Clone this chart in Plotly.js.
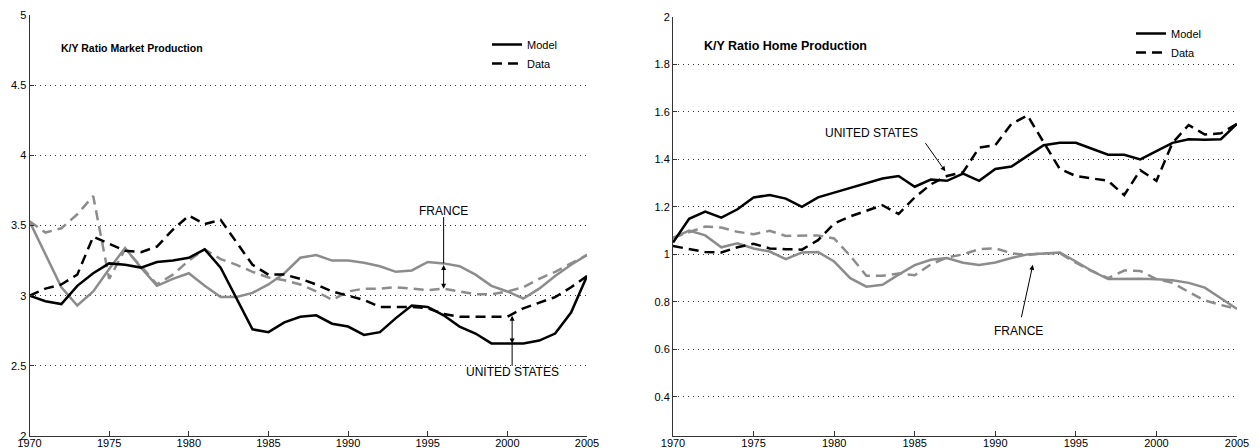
<!DOCTYPE html>
<html><head><meta charset="utf-8">
<script src="https://cdn.plot.ly/plotly-3.0.1.min.js"></script>
<style>html,body{margin:0;padding:0;background:#fff;}#chart{width:1260px;height:448px;}</style>
</head><body><div id="chart"></div>
<script>
// ---- data ----
const years = [1970,1971,1972,1973,1974,1975,1976,1977,1978,1979,1980,1981,1982,1983,1984,1985,1986,1987,1988,1989,1990,1991,1992,1993,1994,1995,1996,1997,1998,1999,2000,2001,2002,2003,2004,2005];

// K/Y ratio, market production
const usModelMkt = [3.00,2.96,2.94,3.07,3.16,3.23,3.22,3.20,3.24,3.25,3.27,3.33,3.20,2.98,2.76,2.74,2.81,2.85,2.86,2.80,2.78,2.72,2.74,2.84,2.93,2.92,2.86,2.78,2.73,2.66,2.66,2.66,2.68,2.73,2.88,3.14];
const usDataMkt  = [3.00,3.05,3.08,3.15,3.42,3.37,3.32,3.31,3.35,3.47,3.57,3.51,3.54,3.38,3.22,3.15,3.15,3.12,3.08,3.03,3.00,2.97,2.92,2.92,2.92,2.91,2.87,2.85,2.85,2.85,2.85,2.91,2.95,2.99,3.06,3.14];
const frModelMkt = [3.53,3.30,3.06,2.93,3.03,3.19,3.34,3.20,3.07,3.12,3.16,3.07,2.99,2.99,3.02,3.08,3.16,3.27,3.29,3.25,3.25,3.235,3.21,3.17,3.18,3.24,3.23,3.21,3.15,3.07,3.03,2.98,3.05,3.14,3.22,3.29];
const frDataMkt  = [3.53,3.45,3.48,3.58,3.71,3.12,3.33,3.21,3.08,3.15,3.25,3.33,3.26,3.22,3.17,3.13,3.11,3.08,3.03,2.97,3.03,3.05,3.05,3.06,3.05,3.04,3.05,3.03,3.01,3.01,3.03,3.06,3.12,3.17,3.23,3.29];

// K/Y ratio, home production
const usModelHome = [1.05,1.15,1.18,1.155,1.19,1.24,1.25,1.235,1.20,1.24,1.26,1.28,1.30,1.32,1.33,1.285,1.315,1.31,1.34,1.31,1.36,1.37,1.415,1.46,1.47,1.47,1.445,1.42,1.42,1.40,1.435,1.47,1.485,1.483,1.485,1.55];
const usDataHome  = [1.035,1.022,1.01,1.008,1.03,1.045,1.025,1.022,1.02,1.06,1.13,1.16,1.185,1.207,1.17,1.24,1.295,1.33,1.346,1.45,1.46,1.55,1.585,1.47,1.36,1.33,1.32,1.31,1.25,1.355,1.31,1.47,1.545,1.505,1.51,1.55];
const frModelHome = [1.07,1.10,1.08,1.03,1.047,1.025,1.012,0.98,1.008,1.01,0.97,0.90,0.864,0.872,0.915,0.955,0.977,0.985,0.965,0.955,0.966,0.985,1.0,1.005,1.008,0.97,0.93,0.896,0.898,0.897,0.895,0.891,0.88,0.86,0.815,0.77];
const frDataHome  = [1.07,1.095,1.117,1.113,1.095,1.085,1.099,1.078,1.08,1.08,1.067,0.994,0.91,0.91,0.92,0.912,0.958,0.987,1.0,1.022,1.026,1.005,0.998,1.005,1.005,0.965,0.93,0.90,0.932,0.93,0.896,0.88,0.842,0.806,0.787,0.77];

// tick labels
const xTicks = [1970,1975,1980,1985,1990,1995,2000,2005];
const yTicksMkt = [2,2.5,3,3.5,4,4.5,5];
const yTickTextMkt = ['2','2.5','3','3.5','4','4.5','5'];
const yTicksHome = [0.4,0.6,0.8,1,1.2,1.4,1.6,1.8,2];
const yTickTextHome = ['0.4','0.6','0.8','1','1.2','1.4','1.6','1.8','2'];

const titles = ['K/Y Ratio Market Production','K/Y Ratio Home Production'];
const seriesNames = ['Model','Data'];
const countryLabels = ['UNITED STATES','FRANCE'];

// ---- helpers ----
const W = 1260, H = 448;
const px = v => v / W;
const py = v => 1 - v / H;
function at(arr, yr) {
  const t = yr - years[0];
  const i = Math.floor(t), f = t - i;
  if (f === 0 || i >= arr.length - 1) return arr[i];
  return arr[i] * (1 - f) + arr[i + 1] * f;
}

const BLACK = '#000000', GRAY = '#8c8c8c';
const DASH = '10px,6px';
const sans = '"Liberation Sans", Arial, sans-serif';

function tr(y, xa, ya, color, dash, name, legend, show) {
  return {
    x: years, y: y, xaxis: xa, yaxis: ya, type: 'scatter', mode: 'lines',
    line: {color: color, width: 2.5, dash: dash},
    name: name, legend: legend, showlegend: show, hoverinfo: 'skip'
  };
}

const data = [
  tr(frDataMkt, 'x', 'y', GRAY, DASH, 'France data', 'legend', false),
  tr(frModelMkt, 'x', 'y', GRAY, 'solid', 'France model', 'legend', false),
  tr(usDataMkt, 'x', 'y', BLACK, DASH, seriesNames[1], 'legend', true),
  tr(usModelMkt, 'x', 'y', BLACK, 'solid', seriesNames[0], 'legend', true),
  tr(frDataHome, 'x2', 'y2', GRAY, DASH, 'France data', 'legend2', false),
  tr(frModelHome, 'x2', 'y2', GRAY, 'solid', 'France model', 'legend2', false),
  tr(usDataHome, 'x2', 'y2', BLACK, DASH, seriesNames[1], 'legend2', true),
  tr(usModelHome, 'x2', 'y2', BLACK, 'solid', seriesNames[0], 'legend2', true)
];
data[2].legendrank = 2; data[3].legendrank = 1;
data[6].legendrank = 2; data[7].legendrank = 1;

function xax(domain, anchor) {
  return {
    domain: domain, anchor: anchor, range: [1970, 2005], tickvals: xTicks, ticktext: xTicks.map(String),
    ticks: 'inside', ticklen: 5, tickcolor: '#333', showline: true, linecolor: '#333', linewidth: 1,
    showgrid: false, zeroline: false, fixedrange: true, ticklabelstandoff: -3,
    tickfont: {family: sans, size: 11, color: '#000'}
  };
}
function yax(domain, anchor, range, vals, text) {
  return {
    domain: domain, anchor: anchor, range: range, tickvals: vals, ticktext: text,
    ticks: 'inside', ticklen: 4, tickcolor: '#333', showline: true, linecolor: '#333', linewidth: 1,
    showgrid: true, gridcolor: '#333', gridwidth: 1, griddash: '1px,4px', zeroline: false, fixedrange: true,
    tickfont: {family: sans, size: 11, color: '#000'}
  };
}

const yrF = 1996, yrU = 2000.3;
const lblFont = {family: sans, size: 12, color: '#000'};
const arrowBase = {text: '', showarrow: true, arrowhead: 2, arrowsize: 1, arrowwidth: 1, arrowcolor: '#000', standoff: 0};
const annotations = [
  {xref: 'paper', yref: 'paper', x: px(132), y: py(48), xanchor: 'center', yanchor: 'middle',
   text: '<b>' + titles[0] + '</b>', showarrow: false, font: {family: sans, size: 10.5, color: '#000'}},
  {xref: 'paper', yref: 'paper', x: px(785), y: py(46), xanchor: 'center', yanchor: 'middle',
   text: '<b>' + titles[1] + '</b>', showarrow: false, font: {family: sans, size: 12.5, color: '#000'}},
  // left panel labels
  {xref: 'x', yref: 'y', x: yrF, y: 3.60, xanchor: 'center', text: countryLabels[1], showarrow: false, font: lblFont},
  Object.assign({xref: 'x', yref: 'y', x: yrF, y: at(frDataMkt, yrF), ax: yrF, ay: at(frModelMkt, yrF), axref: 'x', ayref: 'y',
   arrowside: 'end+start', startstandoff: 0}, arrowBase),
  {xref: 'x', yref: 'y', x: yrU, y: 2.455, xanchor: 'center', text: countryLabels[0], showarrow: false, font: lblFont},
  Object.assign({xref: 'x', yref: 'y', x: yrU, y: at(usModelMkt, yrU), ax: yrU, ay: at(usDataMkt, yrU), axref: 'x', ayref: 'y',
   arrowside: 'end+start', startstandoff: 0}, arrowBase),
  // right panel labels
  {xref: 'x2', yref: 'y2', x: 1982.3, y: 1.513, xanchor: 'center', text: countryLabels[0], showarrow: false, font: lblFont},
  Object.assign({xref: 'x2', yref: 'y2', x: 1986.9, y: 1.35, ax: 1985.6, ay: 1.475, axref: 'x2', ayref: 'y2'}, arrowBase),
  {xref: 'x2', yref: 'y2', x: 1991.46, y: 0.678, xanchor: 'center', text: countryLabels[1], showarrow: false, font: lblFont},
  Object.assign({xref: 'x2', yref: 'y2', x: 1992.33, y: 0.956, ax: 1991.6, ay: 0.729, axref: 'x2', ayref: 'y2'}, arrowBase)
];

const shapes = [
  {type: 'line', xref: 'x', yref: 'y', x0: yrF, x1: yrF, y0: 3.56, y1: at(frModelMkt, yrF), line: {color: '#000', width: 1}},
  {type: 'line', xref: 'x', yref: 'y', x0: yrU, x1: yrU, y0: 2.50, y1: at(usModelMkt, yrU), line: {color: '#000', width: 1}}
];

const legendBase = {
  bgcolor: 'rgba(0,0,0,0)', borderwidth: 0, xanchor: 'left', yanchor: 'top',
  font: {family: sans, size: 11, color: '#000'}, tracegroupgap: 0, itemwidth: 30
};

const bottom = 12;
const layout = {
  width: W, height: H, margin: {l: 0, r: 0, t: 0, b: 0},
  paper_bgcolor: '#fff', plot_bgcolor: '#fff',
  showlegend: true,
  xaxis: xax([px(29.5), px(587)], 'y'),
  yaxis: yax([bottom / H, 1 - 15 / H], 'x', [2, 5], yTicksMkt, yTickTextMkt),
  xaxis2: xax([px(673), px(1237)], 'y2'),
  yaxis2: yax([bottom / H, 1 - 17 / H], 'x2', [0.235, 2], yTicksHome, yTickTextHome),
  legend: Object.assign({x: px(487), y: py(30)}, legendBase),
  legend2: Object.assign({x: px(1131), y: py(19)}, legendBase),
  annotations: annotations,
  shapes: shapes
};

Plotly.newPlot('chart', data, layout, {staticPlot: true, displayModeBar: false});
</script>
</body></html>
